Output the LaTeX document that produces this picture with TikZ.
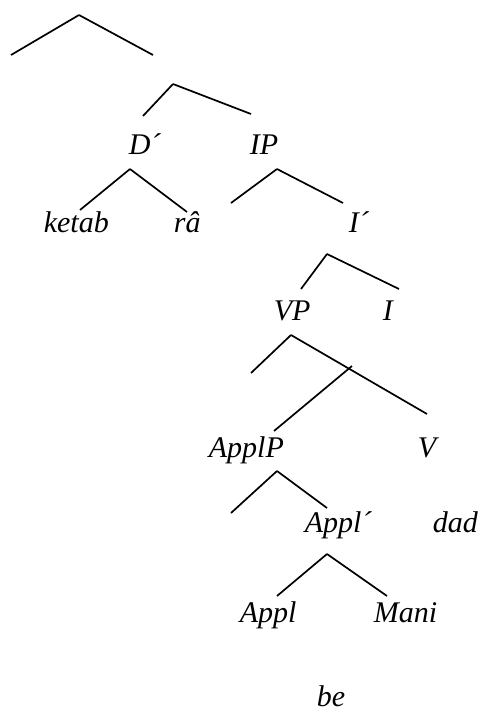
\documentclass[tikz,border=0pt]{standalone}
\usepackage{fontspec}
\setmainfont{Liberation Serif}
\usepackage{tikz}

\begin{document}
\begin{tikzpicture}[x=1pt,y=-1pt,line width=1.7pt,every node/.style={anchor=base west,inner sep=0pt,font=\itshape\fontsize{30}{36}\selectfont}]
    \useasboundingbox (0,0) rectangle (481,713);
    %
    \node (dbar) at (128,154) {D´};
    \node (ip) at (249,154) {IP};
    \node (ketab) at (43,232) {ketab};
    \node (ra) at (173,232) {râ};
    \node (ibar) at (348,232) {I´};

    \node (vp) at (273,320) {VP};
    \node (i) at (382,320) {I};
    \node (applp) at (208,457) {ApplP};
    \node (v) at (417,457) {V};

    \node (applbar) at (304,532) {Appl´};
    \node (dad) at (432,532) {dad};
    \node (appl) at (239,622) {Appl};
    \node (mani) at (373,622) {Mani};
    \node (be) at (316,706) {be};
    %
    \coordinate (top) at (79,15);
    \coordinate (topl) at (11,55);
    \coordinate (topr) at (153,55);
    \coordinate (dp) at (173,84);
    \coordinate (dpl) at (143,116);
    \coordinate (dpr) at (251,114);

    \coordinate (dbart) at (130,169);
    \coordinate (dbarl) at (80,210);
    \coordinate (dbarr) at (187,212);
    \coordinate (ipt) at (277,169);
    \coordinate (ipl) at (231,203);
    \coordinate (ipr) at (343,203);

    \coordinate (ibart) at (327,254);
    \coordinate (ibarl) at (301,289);
    \coordinate (ibarr) at (399,289);
    \coordinate (vpt) at (291,335);
    \coordinate (vpl) at (251,373);
    \coordinate (vpr) at (427,414);
    \coordinate (vbar) at (352,366);
    \coordinate (vbarl) at (274,431);

    \coordinate (applpt) at (277,471);
    \coordinate (applpl) at (231,513);
    \coordinate (applpr) at (327,508);
    \coordinate (applbart) at (327,554);
    \coordinate (applbarl) at (277,596);
    \coordinate (applbarr) at (387,596);
    %
    \draw (top) edge (topl);
    \draw (top) edge (topr);
    \draw (dp) edge (dpl);
    \draw (dp) edge (dpr);

    \draw (dbart) edge (dbarl);
    \draw (dbart) edge (dbarr);
    \draw (ipt) edge (ipl);
    \draw (ipt) edge (ipr);

    \draw (ibart) edge (ibarl);
    \draw (ibart) edge (ibarr);
    \draw (vpt) edge (vpl);
    \draw (vpt) edge (vpr);
    \draw (vbar) edge (vbarl);

    \draw (applpt) edge (applpl);
    \draw (applpt) edge (applpr);
    \draw (applbart) edge (applbarl);
    \draw (applbart) edge (applbarr);
    %
\end{tikzpicture}
\end{document}
